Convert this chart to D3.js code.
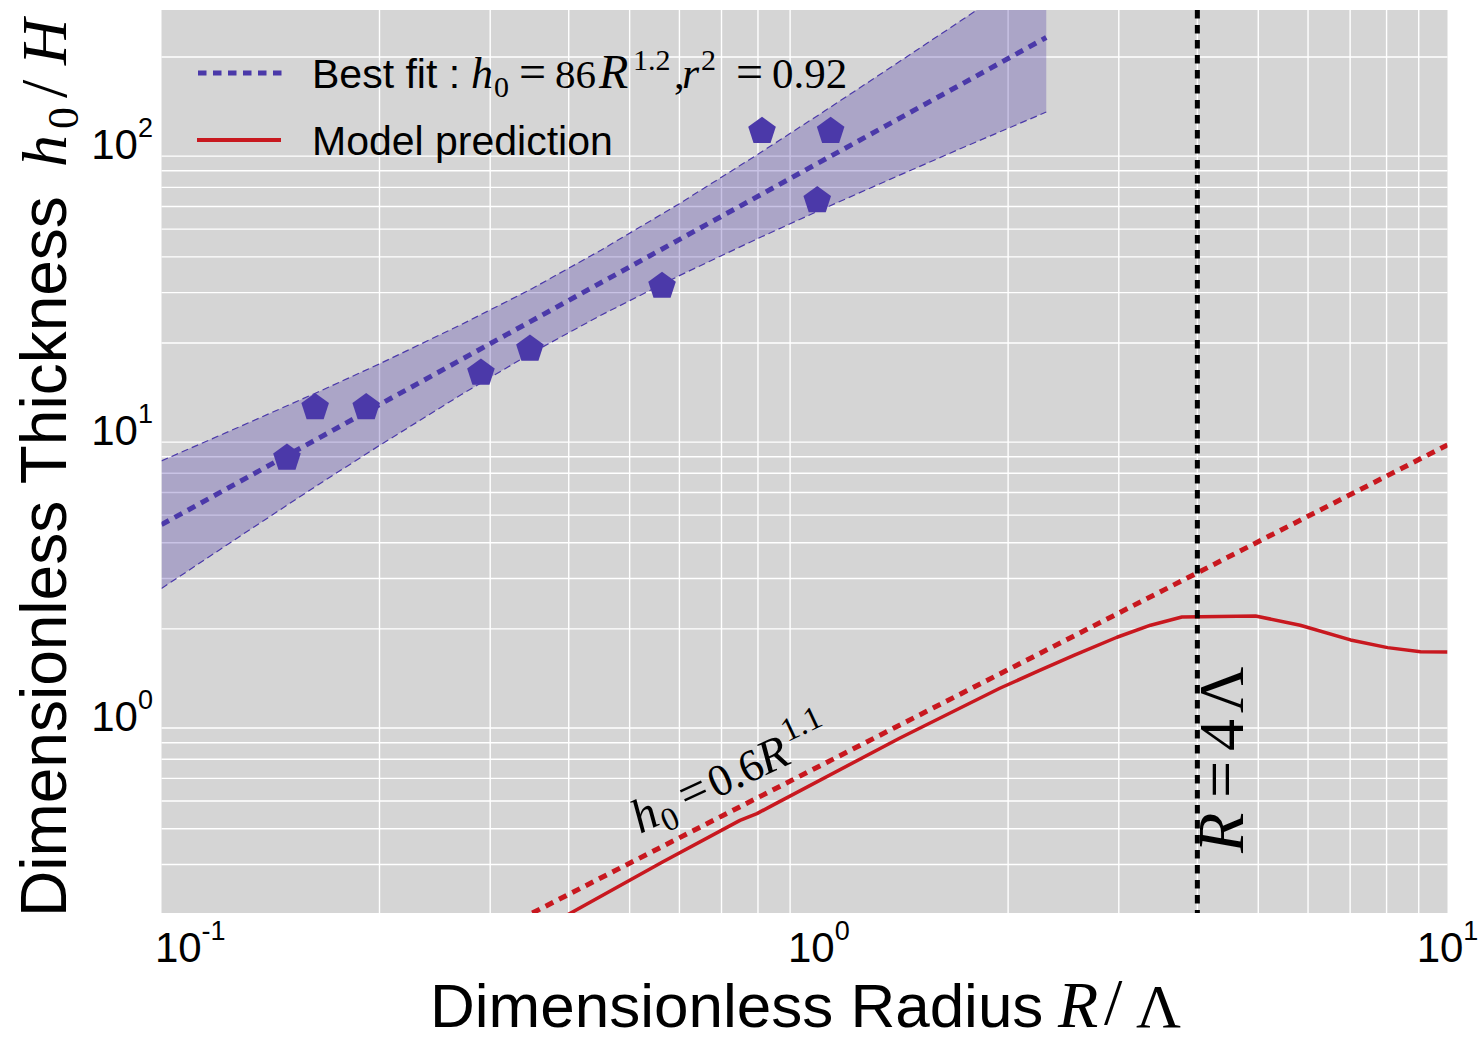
<!DOCTYPE html>
<html><head><meta charset="utf-8">
<script src="https://cdnjs.cloudflare.com/ajax/libs/d3/7.8.5/d3.min.js"></script>
<style>html,body{margin:0;padding:0;background:#fff;} svg{display:block;}</style>
</head><body>
<svg id="chart" width="1484" height="1041"></svg>
<script>
// ---------------- data ----------------
const dataR = [0.1425, 0.158, 0.1905, 0.290, 0.347, 0.563, 0.812, 1.044, 0.994];
const dataH = [7.92, 11.9, 11.9, 15.7, 19.05, 31.6, 110, 110, 63.0];

const fitR = [0.09, 2.3];
const fitH = [4.63, 234];

const bandR    = [0.09, 0.12, 0.16, 0.2, 0.27, 0.35, 0.45, 0.6, 0.8, 1.0, 1.3, 1.7, 2.3];
const bandLow  = [2.77, 4.22, 6.40, 8.76, 13.2, 18.5, 25.0, 34.4, 46.4, 58.0, 74.8, 96.7, 128.4];
const bandHigh = [7.74, 10.2, 13.5, 16.9, 23.2, 31.0, 42.2, 61.4, 91.4, 125.6, 183.7, 272, 426];

const modelR = [0.39, 0.564, 0.749, 0.797, 0.845, 1.346, 1.94, 2.24, 2.55, 2.98, 3.37, 3.78, 4.95, 5.83, 7.01, 8.03, 9.06, 10.0];
const modelH = [0.195, 0.306, 0.428, 0.452, 0.484, 0.831, 1.24, 1.43, 1.62, 1.87, 2.06, 2.20, 2.22, 2.06, 1.83, 1.72, 1.665, 1.66];

const modelFitR = [0.35, 10];
const modelFitH = [0.203, 8.8];

const vlineR = [4];

const xTickVals = [0.1, 1, 10];
const xTickExp  = ["-1", "0", "1"];
const yTickVals = [1, 10, 100];
const yTickExp  = ["0", "1", "2"];

const xDomain = [0.09, 10];
const yDomain = [0.203, 292];

// ---------------- layout ----------------
const L = 161.5, R_ = 1447.5, T = 10, B = 913;
const purple = "#4B39A9", red = "#C8181F";
const sans = "'Liberation Sans', Arial, Helvetica, sans-serif";
const serif = "'Liberation Serif', 'Times New Roman', serif";

const svg = d3.select("#chart");
const x = d3.scaleLog().domain(xDomain).range([L, R_]);
const y = d3.scaleLog().domain(yDomain).range([B, T]);

svg.append("defs").append("clipPath").attr("id", "clip")
  .append("rect").attr("x", L).attr("y", T).attr("width", R_ - L).attr("height", B - T);

svg.append("rect").attr("x", L).attr("y", T).attr("width", R_ - L).attr("height", B - T)
  .attr("fill", "#d5d5d5");

// minor gridlines only (major ones are not visible in reference)
const isMajor = v => Math.abs(Math.log10(v) - Math.round(Math.log10(v))) < 1e-9;
const grid = svg.append("g");
x.ticks().filter(v => !isMajor(v) && x(v) > L + 2 && x(v) < R_ - 2).forEach(v => {
  grid.append("line").attr("x1", x(v)).attr("x2", x(v)).attr("y1", T).attr("y2", B)
    .attr("stroke", "#fff").attr("stroke-width", 1.4);
});
y.ticks().filter(v => !isMajor(v) && y(v) > T + 2 && y(v) < B - 2).forEach(v => {
  grid.append("line").attr("x1", L).attr("x2", R_).attr("y1", y(v)).attr("y2", y(v))
    .attr("stroke", "#fff").attr("stroke-width", 1.4);
});

const plot = svg.append("g").attr("clip-path", "url(#clip)");

// confidence band
const band = bandR.map((r, i) => [r, bandLow[i], bandHigh[i]]);
plot.append("path").datum(band)
  .attr("d", d3.area().x(d => x(d[0])).y0(d => y(d[1])).y1(d => y(d[2])))
  .attr("fill", purple).attr("fill-opacity", 0.3);
[1, 2].forEach(k => {
  plot.append("path").datum(band)
    .attr("d", d3.line().x(d => x(d[0])).y(d => y(d[k])))
    .attr("fill", "none").attr("stroke", purple).attr("stroke-width", 1.2)
    .attr("stroke-dasharray", "7,4");
});

const line = d3.line().x(d => x(d[0])).y(d => y(d[1]));

// best fit line
plot.append("path").datum(fitR.map((r, i) => [r, fitH[i]]))
  .attr("d", line).attr("fill", "none").attr("stroke", purple)
  .attr("stroke-width", 5).attr("stroke-dasharray", "8.5,6.5");

// model fit dotted
plot.append("path").datum(modelFitR.map((r, i) => [r, modelFitH[i]]))
  .attr("d", line).attr("fill", "none").attr("stroke", red)
  .attr("stroke-width", 5).attr("stroke-dasharray", "8.5,6.5");

// model prediction
plot.append("path").datum(modelR.map((r, i) => [r, modelH[i]]))
  .attr("d", line).attr("fill", "none").attr("stroke", red)
  .attr("stroke-width", 3.5).attr("stroke-linejoin", "round");

// pentagon markers
const pr = 14.5;
const pent = d3.range(5).map(k => {
  const a = -Math.PI / 2 + k * 2 * Math.PI / 5;
  return [pr * Math.cos(a), pr * Math.sin(a)];
});
const pentPath = "M" + pent.map(p => p.join(",")).join("L") + "Z";
svg.append("g").selectAll("path").data(dataR.map((r, i) => [r, dataH[i]])).join("path")
  .attr("d", pentPath)
  .attr("transform", d => `translate(${x(d[0])},${y(d[1])})`)
  .attr("fill", purple);

// vertical line R = 4
vlineR.forEach(v => {
  svg.append("line").attr("x1", x(v)).attr("x2", x(v)).attr("y1", T).attr("y2", B)
    .attr("stroke", "#000").attr("stroke-width", 5).attr("stroke-dasharray", "8.5,6.5");
});

// ---------------- tick labels ----------------
xTickVals.forEach((v, i) => {
  const t = svg.append("text").attr("x", x(v)).attr("y", 962)
    .attr("text-anchor", "middle").attr("font-family", sans).attr("font-size", 42);
  t.append("tspan").text("10");
  t.append("tspan").attr("font-size", 27).attr("dy", -22).text(xTickExp[i]);
});
yTickVals.forEach((v, i) => {
  const t = svg.append("text").attr("x", 153).attr("y", y(v) + 16)
    .attr("text-anchor", "end").attr("font-family", sans).attr("font-size", 42);
  t.append("tspan").text("10");
  t.append("tspan").attr("font-size", 27).attr("dy", -22).text(yTickExp[i]);
});

// ---------------- helpers ----------------
const piece = (g, txt, px, py, fam, size, italic) =>
  g.append("text").attr("x", px).attr("y", py).attr("font-family", fam)
    .attr("font-size", size).attr("font-style", italic ? "italic" : "normal").text(txt);

// ---------------- axis labels ----------------
const xl = svg.append("g");
piece(xl, "Dimensionless Radius", 430, 1027, sans, 62);
piece(xl, "R", 1058, 1027, serif, 66, true);
piece(xl, "/", 1104, 1024, serif, 66);
piece(xl, "Λ", 1136, 1027, serif, 62);

const yl = svg.append("g").attr("transform", "translate(66,913) rotate(-90)");
piece(yl, "Dimensionless Thickness", -4, 0, sans, 64);
piece(yl, "h", 746, 0, serif, 64, true);
piece(yl, "0", 784, 12, serif, 44);
piece(yl, "/", 815, 0, serif, 66);
piece(yl, "H", 848, 0, serif, 64, true);

// ---------------- legend ----------------
svg.append("line").attr("x1", 198).attr("x2", 283).attr("y1", 73).attr("y2", 73)
  .attr("stroke", purple).attr("stroke-width", 5).attr("stroke-dasharray", "8.5,6.5");
svg.append("line").attr("x1", 197).attr("x2", 281).attr("y1", 140).attr("y2", 140)
  .attr("stroke", red).attr("stroke-width", 4);

const lg = svg.append("g");
piece(lg, "Best fit :", 312, 88, sans, 41);
piece(lg, "h", 471, 88, serif, 44, true);
piece(lg, "0", 494, 97, serif, 30);
piece(lg, "=", 519, 88, serif, 48);
piece(lg, "86", 555, 88, serif, 41);
piece(lg, "R", 599, 88, serif, 48, true);
piece(lg, "1.2", 633, 70, serif, 30);
piece(lg, ",", 674, 88, serif, 43);
piece(lg, "r", 682, 88, serif, 44, true);
piece(lg, "2", 701, 70, serif, 30);
piece(lg, "=", 736, 88, serif, 48);
piece(lg, "0.92", 772, 88, serif, 43);
piece(lg, "Model prediction", 312, 155, sans, 41);

// ---------------- annotations ----------------
const an = svg.append("g").attr("transform", "translate(640,834) rotate(-25)");
piece(an, "h", 0, 0, serif, 48, true);
piece(an, "0", 25, 10, serif, 33);
piece(an, "=", 52, 0, serif, 50);
piece(an, "0.6", 84, 0, serif, 45);
piece(an, "R", 139, 0, serif, 48, true);
piece(an, "1.1", 172, -21, serif, 33);

const rl = svg.append("g").attr("transform", `translate(1243,853) rotate(-90)`);
piece(rl, "R", 0, 0, serif, 66, true);
piece(rl, "=", 55, 0, serif, 66);
piece(rl, "4", 102, 0, serif, 64);
piece(rl, "Λ", 140, 0, serif, 64);
</script>
</body></html>
